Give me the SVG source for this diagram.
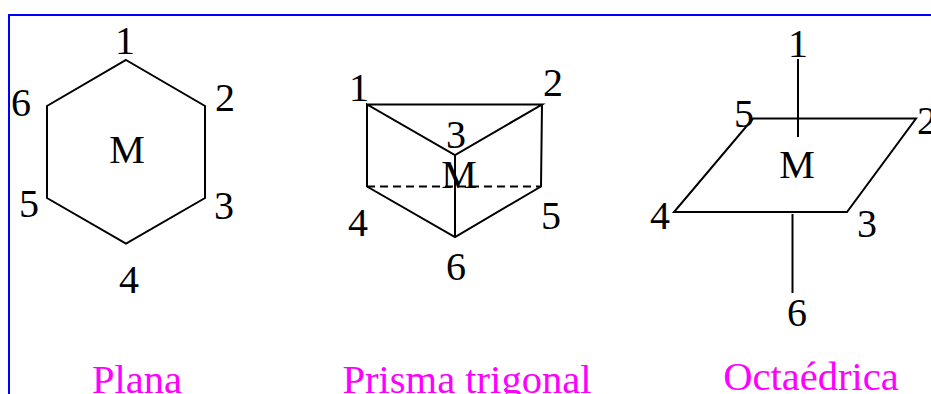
<svg xmlns="http://www.w3.org/2000/svg" width="931" height="394" viewBox="0 0 931 394">
<style>
text{font-family:"Liberation Serif","Times New Roman",serif;font-size:40px;fill:#000;text-anchor:middle}
.t{fill:#ff00ff;font-size:40.6px}
.l{fill:none;stroke:#000;stroke-width:2;stroke-linejoin:miter}
.d{stroke-dasharray:8 5}
</style>
<rect width="931" height="394" fill="#fff"/>
<path id="frame" d="M931 15H9V394" fill="none" stroke="#0000ff" stroke-width="2"/>
<g id="connectors">
<path class="l" d="M126 60L205 106V198L126 243.500L47 198V106Z"/>
<path class="l" d="M367 104.500H542L455 155L367 104.500V186.500L455 237L541 186.500L542 104.500M455 155V237"/>
<path class="l d" d="M367 186.500H541"/>
<path class="l" d="M753 118.500H916L847 212H674Z"/>
<path class="l" d="M798 59V137M792.500 214V293"/>
</g>
<g id="plana">
<text x="125" y="54">1</text><text x="225" y="111">2</text><text x="224" y="219">3</text><text x="129" y="293">4</text><text x="29" y="217">5</text><text x="21" y="116">6</text><text x="127" y="163">M</text>
<text class="t" x="137" y="393">Plana</text>
</g>
<g id="prisma">
<text x="359" y="101">1</text><text x="553" y="96">2</text><text x="456" y="148">3</text><text x="358" y="236">4</text><text x="551" y="229">5</text><text x="456" y="280">6</text><text x="459" y="188">M</text>
<text class="t" x="467" y="393">Prisma trigonal</text>
</g>
<g id="octaedrica">
<text x="798" y="57">1</text><text x="927" y="134">2</text><text x="867" y="237">3</text><text x="660" y="229">4</text><text x="744" y="127">5</text><text x="797" y="326">6</text><text x="797" y="178">M</text>
<text class="t" x="811" y="390">Octaédrica</text>
</g>
</svg>
